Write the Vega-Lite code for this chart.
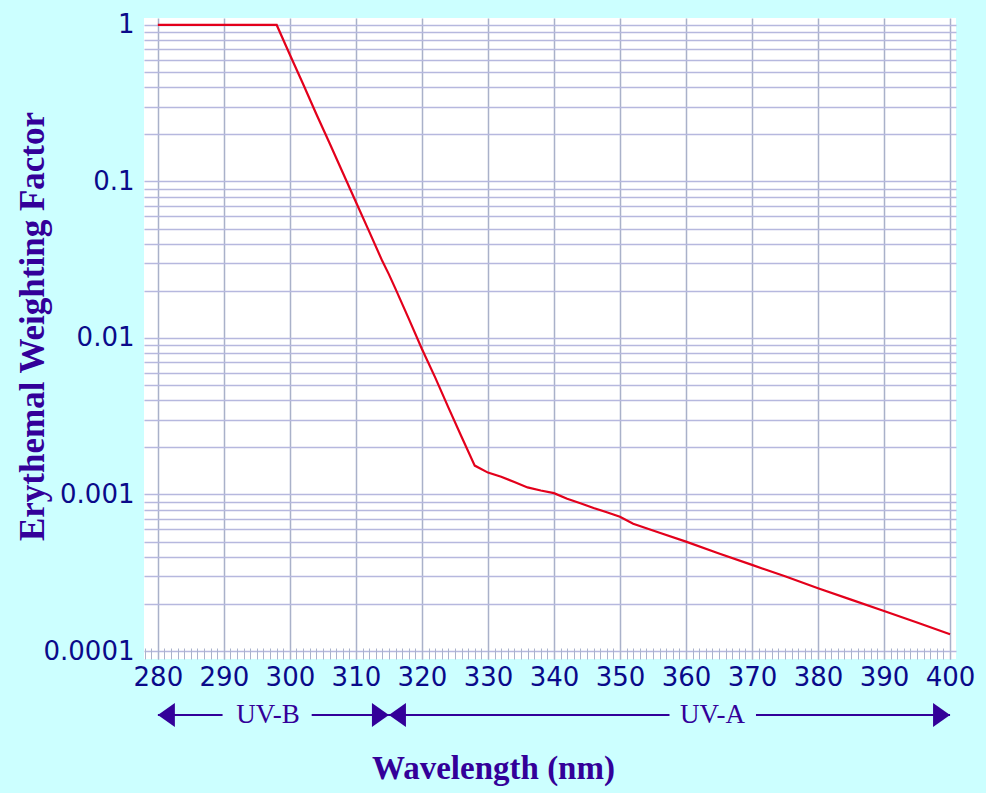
{
  "$schema": "https://vega.github.io/schema/vega-lite/v6.json",
  "background": "#ccffff",
  "padding": {"left": 15, "top": 11, "right": 11, "bottom": 8},
  "config": {"view": {"stroke": null}, "concat": {"spacing": 10}},
  "datasets": {
    "curve": [
      {"wavelength": 280, "factor": 1},
      {"wavelength": 298, "factor": 1},
      {"wavelength": 300, "factor": 0.645},
      {"wavelength": 302, "factor": 0.42},
      {"wavelength": 304, "factor": 0.27},
      {"wavelength": 306, "factor": 0.176},
      {"wavelength": 308, "factor": 0.114},
      {"wavelength": 310, "factor": 0.074},
      {"wavelength": 312, "factor": 0.048},
      {"wavelength": 314, "factor": 0.031},
      {"wavelength": 315, "factor": 0.0255},
      {"wavelength": 316, "factor": 0.0206},
      {"wavelength": 318, "factor": 0.0133},
      {"wavelength": 320, "factor": 0.0085},
      {"wavelength": 322, "factor": 0.0056},
      {"wavelength": 324, "factor": 0.0036},
      {"wavelength": 326, "factor": 0.00234},
      {"wavelength": 328, "factor": 0.00153},
      {"wavelength": 330, "factor": 0.00138},
      {"wavelength": 332, "factor": 0.0013},
      {"wavelength": 334, "factor": 0.0012},
      {"wavelength": 336, "factor": 0.00111},
      {"wavelength": 338, "factor": 0.00106},
      {"wavelength": 340, "factor": 0.00102},
      {"wavelength": 342, "factor": 0.00094},
      {"wavelength": 344, "factor": 0.00088},
      {"wavelength": 346, "factor": 0.00082},
      {"wavelength": 348, "factor": 0.00077},
      {"wavelength": 350, "factor": 0.00072},
      {"wavelength": 352, "factor": 0.00065},
      {"wavelength": 356, "factor": 0.00057},
      {"wavelength": 360, "factor": 0.0005},
      {"wavelength": 365, "factor": 0.00042},
      {"wavelength": 370, "factor": 0.000355},
      {"wavelength": 375, "factor": 0.0003},
      {"wavelength": 380, "factor": 0.000252},
      {"wavelength": 385, "factor": 0.000213},
      {"wavelength": 390, "factor": 0.00018},
      {"wavelength": 395, "factor": 0.000152},
      {"wavelength": 400, "factor": 0.000128}
    ],
    "segments": [
      {"start": 280, "end": 289.8},
      {"start": 303.3, "end": 315},
      {"start": 315, "end": 357.5},
      {"start": 370.6, "end": 400}
    ],
    "bands": [
      {"center": 296.7, "band": "UV-B"},
      {"center": 364.0, "band": "UV-A"}
    ],
    "leftHeads": [{"tip": 280}, {"tip": 315}],
    "rightHeads": [{"tip": 315}, {"tip": 400}]
  },
  "vconcat": [
    {
      "width": 812,
      "height": 641,
      "view": {"fill": "white", "stroke": null},
      "data": {"name": "curve"},
      "mark": {"type": "line", "color": "#e3001b", "strokeWidth": 2.2, "clip": true},
      "encoding": {
        "x": {
          "field": "wavelength", "type": "quantitative",
          "scale": {"domain": [277.9, 400.9], "nice": false, "zero": false},
          "axis": {
            "title": null,
            "values": [278,279,280,281,282,283,284,285,286,287,288,289,290,291,292,293,294,295,296,297,298,299,300,301,302,303,304,305,306,307,308,309,310,311,312,313,314,315,316,317,318,319,320,321,322,323,324,325,326,327,328,329,330,331,332,333,334,335,336,337,338,339,340,341,342,343,344,345,346,347,348,349,350,351,352,353,354,355,356,357,358,359,360,361,362,363,364,365,366,367,368,369,370,371,372,373,374,375,376,377,378,379,380,381,382,383,384,385,386,387,388,389,390,391,392,393,394,395,396,397,398,399,400],
            "labelExpr": "datum.value % 10 === 0 ? datum.label : ''",
            "labelFont": "DejaVu Sans", "labelFontSize": 26, "labelColor": "#0a0a8a",
            "labelPadding": 16, "labelOverlap": false, "labelFlush": false,
            "domain": false,
            "tickSize": -11, "tickColor": "#aab2cc", "tickWidth": 1,
            "grid": true, "gridColor": "#a9b1c9", "gridWidth": 1.5,
            "gridOpacity": {"condition": {"test": "datum.value % 10 === 0", "value": 1}, "value": 0}
          }
        },
        "y": {
          "field": "factor", "type": "quantitative",
          "scale": {"type": "log", "domain": [0.0000889, 1.108], "nice": false},
          "axis": {
            "title": "Erythemal Weighting Factor",
            "titleFont": "Liberation Serif", "titleFontSize": 35, "titleFontWeight": "bold", "titleColor": "#330099",
            "titleX": -94, "titleY": 308, "titleAngle": -90, "titleAlign": "center", "titleBaseline": "bottom",
            "values": [0.0001,0.0002,0.0003,0.0004,0.0005,0.0006,0.0007,0.0008,0.0009,0.001,0.002,0.003,0.004,0.005,0.006,0.007,0.008,0.009,0.01,0.02,0.03,0.04,0.05,0.06,0.07,0.08,0.09,0.1,0.2,0.3,0.4,0.5,0.6,0.7,0.8,0.9,1],
            "format": ".4~f",
            "labelExpr": "indexof([0.0001,0.001,0.01,0.1,1], datum.value) >= 0 ? datum.label : ''",
            "labelFont": "DejaVu Sans", "labelFontSize": 26, "labelColor": "#0a0a8a",
            "labelPadding": 10, "labelOverlap": false, "labelFlush": false,
            "ticks": false, "domain": false,
            "grid": true, "gridColor": "#b6b8de", "gridWidth": 1.5
          }
        }
      }
    },
    {
      "width": 812,
      "height": 30,
      "layer": [
        {
          "data": {"name": "segments"},
          "mark": {"type": "rule", "color": "#330099", "strokeWidth": 2},
          "encoding": {
            "x": {"field": "start", "type": "quantitative",
              "scale": {"domain": [277.9, 400.9], "nice": false, "zero": false},
              "axis": {"title": "Wavelength (nm)", "labels": false, "ticks": false, "domain": false, "grid": false,
                "titleFont": "Liberation Serif", "titleFontSize": 33, "titleFontWeight": "bold", "titleColor": "#330099",
                "titlePadding": 22, "titleX": 349, "titleAlign": "center"}},
            "x2": {"field": "end"},
            "y": {"datum": 0.5, "type": "quantitative", "scale": {"domain": [0, 1]}, "axis": null}
          }
        },
        {
          "data": {"name": "bands"},
          "mark": {"type": "text", "font": "Liberation Serif", "fontSize": 27, "color": "#330099", "baseline": "middle", "align": "center"},
          "encoding": {
            "x": {"field": "center", "type": "quantitative"},
            "y": {"datum": 0.5, "type": "quantitative"},
            "text": {"field": "band"}
          }
        },
        {
          "data": {"name": "leftHeads"},
          "mark": {"type": "point", "filled": true, "opacity": 1, "color": "#330099", "size": 289, "shape": "M1,-1.4L-1,0L1,1.4Z", "xOffset": 8.5},
          "encoding": {
            "x": {"field": "tip", "type": "quantitative"},
            "y": {"datum": 0.5, "type": "quantitative"}
          }
        },
        {
          "data": {"name": "rightHeads"},
          "mark": {"type": "point", "filled": true, "opacity": 1, "color": "#330099", "size": 289, "shape": "M-1,-1.4L1,0L-1,1.4Z", "xOffset": -8.5},
          "encoding": {
            "x": {"field": "tip", "type": "quantitative"},
            "y": {"datum": 0.5, "type": "quantitative"}
          }
        }
      ]
    }
  ]
}
